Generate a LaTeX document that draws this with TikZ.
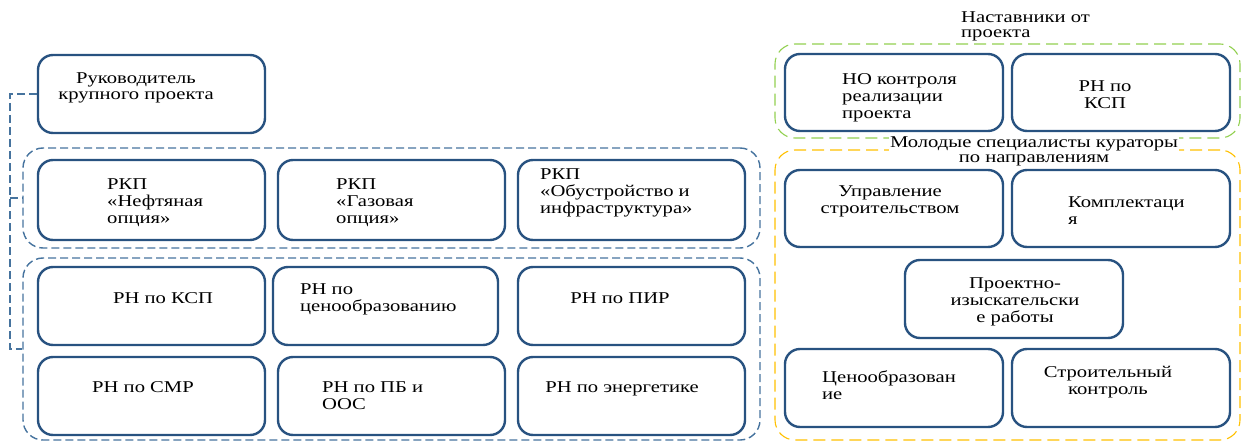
\documentclass[tikz,border=0pt]{standalone}
\usepackage{fontspec}
\setmainfont{Liberation Serif}[FakeStretch=1.25]
\usepackage{tikz}
\definecolor{boxblue}{RGB}{40,82,128}
\definecolor{grpblue}{RGB}{70,115,158}
\definecolor{grpgreen}{RGB}{146,208,80}
\definecolor{grporange}{RGB}{255,192,0}
\tikzset{
  box/.style={draw=boxblue,line width=2.4pt,rounded corners=15pt,inner sep=0pt},
  grp/.style={draw=grpblue,line width=1.4pt,dash pattern=on 8pt off 4pt,rounded corners=20pt,inner sep=0pt},
  txt/.style={inner sep=0pt,font=\fontsize{16.5}{17}\selectfont},
  ttl/.style={inner sep=1pt,fill=white,font=\fontsize{16.5}{15}\selectfont}
}
\begin{document}
\begin{tikzpicture}[x=1pt,y=-1pt]
\useasboundingbox (0,0) rectangle (1247,441);
\node[grp,minimum width=737,minimum height=100] (grpA) at (391.5,198) {};
\node[grp,minimum width=737,minimum height=182] (grpB) at (391.5,349) {};
\node[grp,draw=grpgreen,line width=1.1pt,dash pattern=on 12pt off 6pt,minimum width=465,minimum height=94] (grpC) at (1007.5,91) {};
\node[grp,draw=grporange,line width=1.1pt,dash pattern=on 12pt off 6pt,minimum width=465,minimum height=290] (grpD) at (1007.5,295) {};
\node[box,minimum width=227,minimum height=78] (ruk) at (151.5,94) {};
\node[txt,align=center,anchor=base] (rukT) at (136,100) {Руководитель\\крупного проекта};
\node[box,minimum width=227,minimum height=80] (rkpA) at (151.5,200) {};
\node[txt,align=left,anchor=base west] (rkpAT) at (107,223) {РКП\\«Нефтяная\\опция»};
\node[box,minimum width=227,minimum height=80] (rkpB) at (391.5,200) {};
\node[txt,align=left,anchor=base west] (rkpBT) at (336,223) {РКП\\«Газовая\\опция»};
\node[box,minimum width=227,minimum height=80] (rkpC) at (631.5,200) {};
\node[txt,align=left,anchor=base west] (rkpCT) at (540,213) {РКП\\«Обустройство и\\инфраструктура»};
\node[box,minimum width=227,minimum height=78] (rnKsp) at (151.5,306) {};
\node[txt,anchor=base] (rnKspT) at (163,303) {РН по КСП};
\node[box,minimum width=225,minimum height=78] (rnCen) at (385.5,306) {};
\node[txt,align=left,anchor=base west] (rnCenT) at (300,311) {РН по\\ценообразованию};
\node[box,minimum width=227,minimum height=78] (rnPir) at (631.5,306) {};
\node[txt,anchor=base] (rnPirT) at (620,303) {РН по ПИР};
\node[box,minimum width=227,minimum height=78] (rnSmr) at (151.5,396) {};
\node[txt,anchor=base] (rnSmrT) at (143,392) {РН по СМР};
\node[box,minimum width=227,minimum height=78] (rnPb) at (391.5,396) {};
\node[txt,align=left,anchor=base west] (rnPbT) at (322,409) {РН по ПБ и\\ООС};
\node[box,minimum width=227,minimum height=78] (rnEn) at (631.5,396) {};
\node[txt,anchor=base] (rnEnT) at (622,392) {РН по энергетике};
\node[box,minimum width=218,minimum height=77] (noKontr) at (894,92.5) {};
\node[txt,align=left,anchor=base west] (noKontrT) at (842,119) {НО контроля\\реализации\\проекта};
\node[box,minimum width=218,minimum height=77] (rnKspB) at (1121,92.5) {};
\node[txt,align=center,anchor=base] (rnKspBT) at (1105,109) {РН по\\КСП};
\node[box,minimum width=218,minimum height=77] (upr) at (894,208.5) {};
\node[txt,align=center,anchor=base] (uprT) at (890,213) {Управление\\строительством};
\node[box,minimum width=218,minimum height=77] (kompl) at (1121,208.5) {};
\node[txt,align=left,anchor=base west] (komplT) at (1068,224) {Комплектаци\\я};
\node[box,minimum width=218,minimum height=78] (pir) at (1014,299) {};
\node[txt,align=center,anchor=base] (pirT) at (1015,322) {Проектно-\\изыскательски\\е работы};
\node[box,minimum width=218,minimum height=78] (cen) at (894,388) {};
\node[txt,align=left,anchor=base west] (cenT) at (822,399) {Ценообразован\\ие};
\node[box,minimum width=218,minimum height=78] (skontr) at (1121,388) {};
\node[txt,align=center,anchor=base] (skontrT) at (1108,394) {Строительный\\контроль};
\node[ttl,align=left,anchor=base west] (nastT) at (960,38) {Наставники от\\проекта};
\node[ttl,align=center,anchor=base] (molT) at (1034,162) {Молодые специалисты кураторы\\по направлениям};
\draw[grp,rounded corners=0pt] (ruk.west) -- ++(-27,0) coordinate (brTop) |- (grpB.west);
\draw[grp,rounded corners=0pt] (brTop |- grpA.west) -- (grpA.west);
\end{tikzpicture}
\end{document}
